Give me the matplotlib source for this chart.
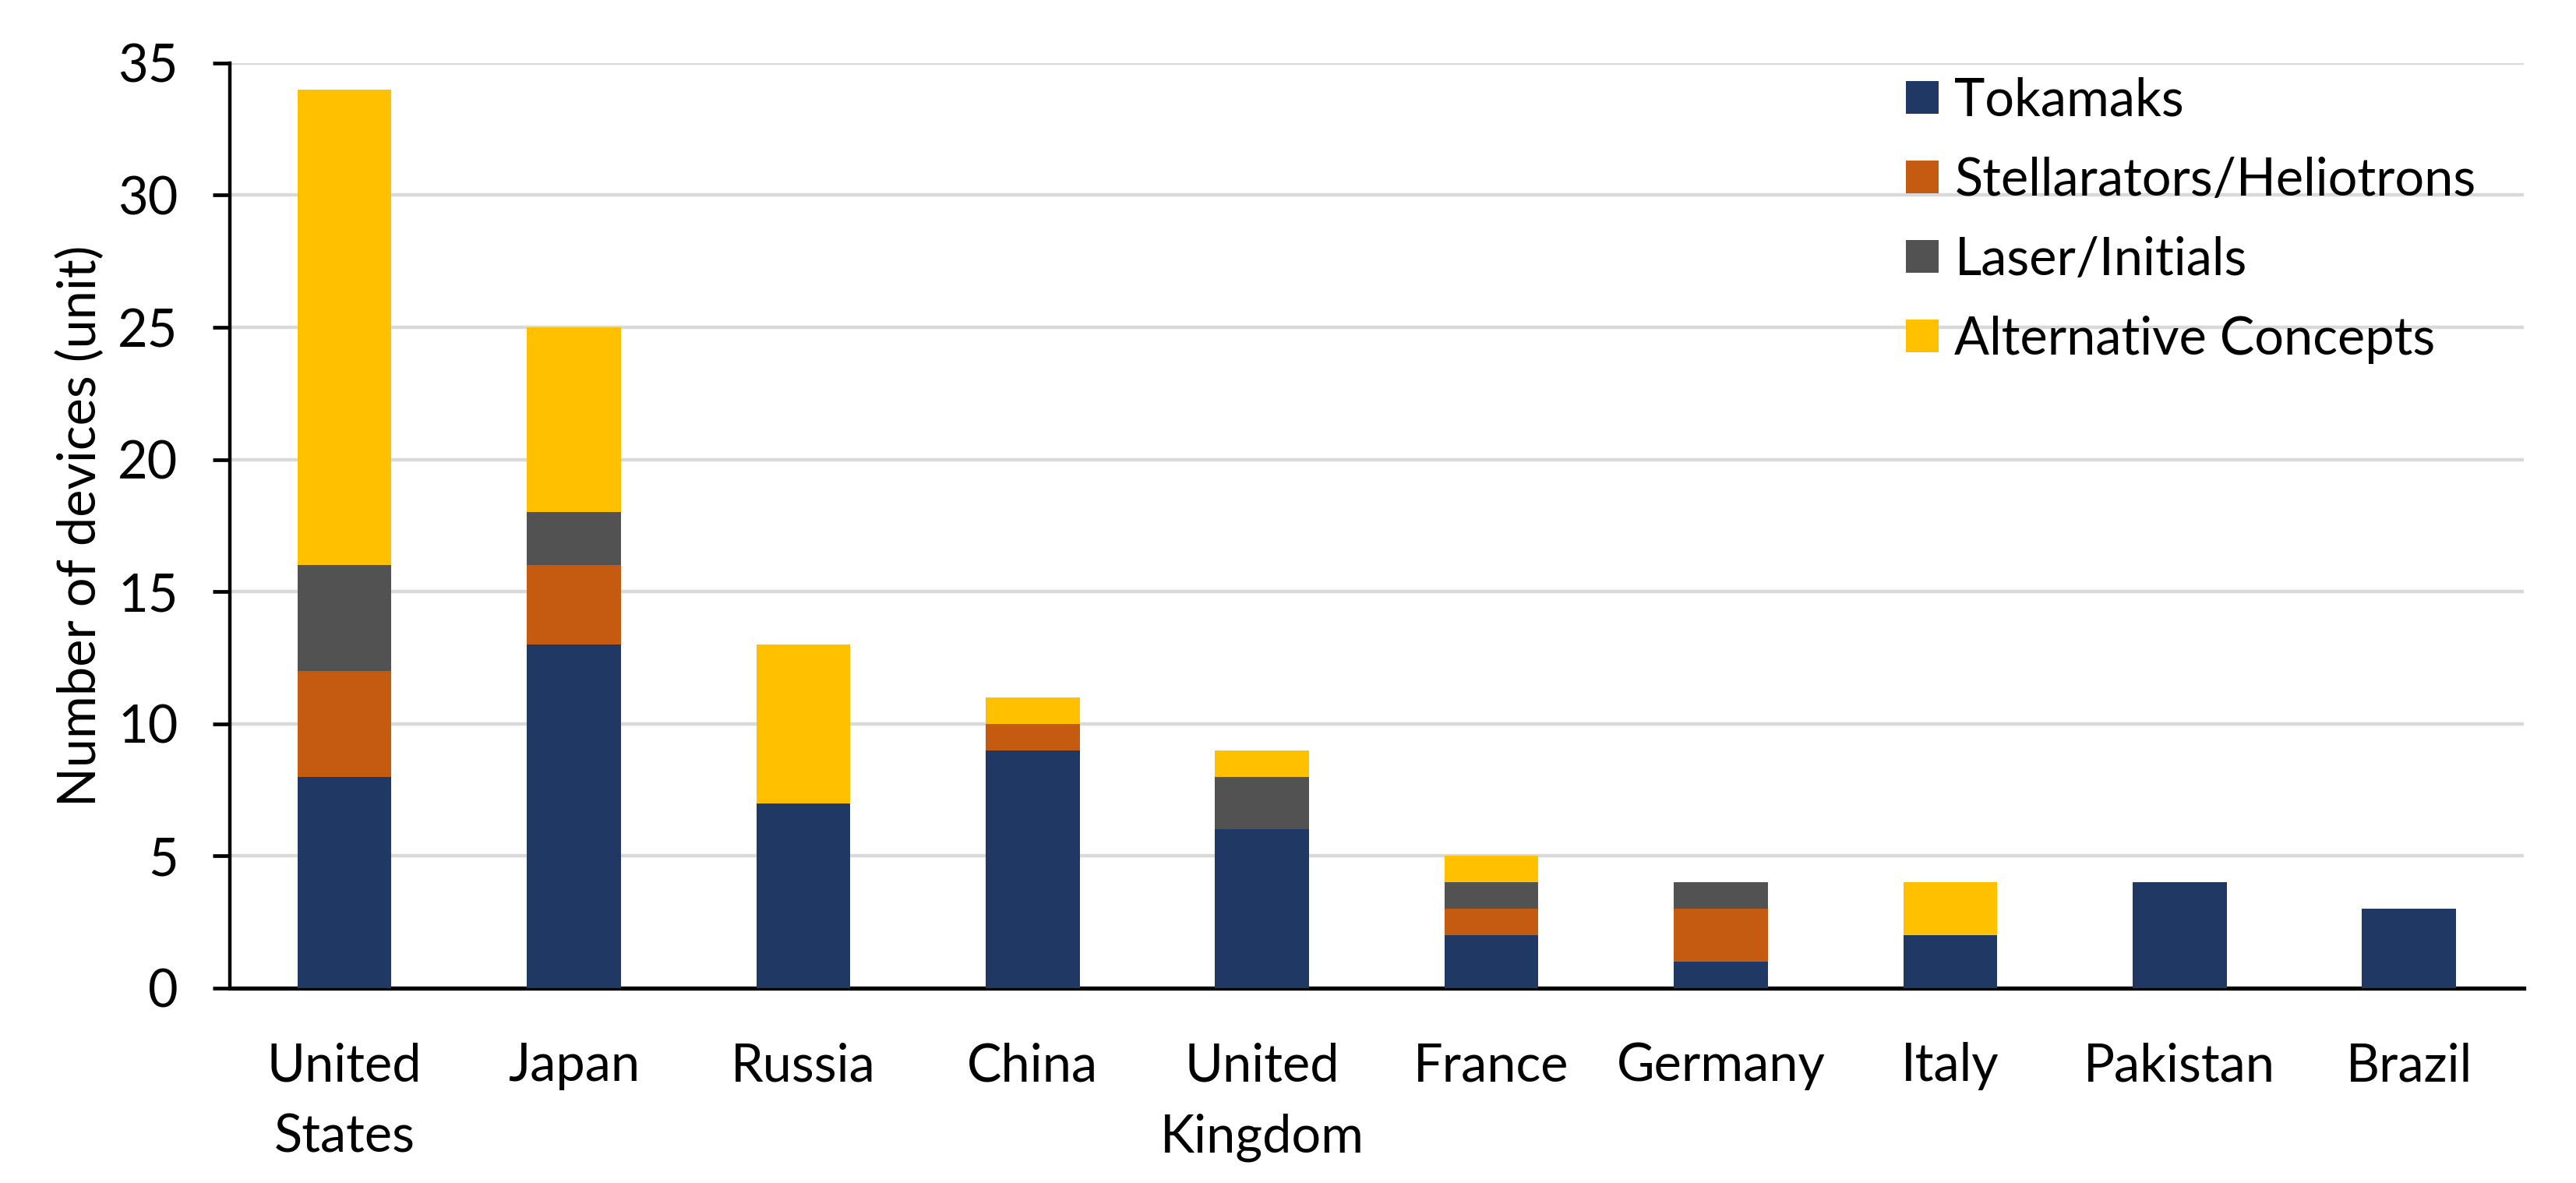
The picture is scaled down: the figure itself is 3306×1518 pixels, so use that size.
import matplotlib
matplotlib.use("Agg")
import matplotlib.pyplot as plt
import numpy as np

plt.rcParams['font.family'] = ['Lato', 'DejaVu Sans']

countries = ["United\nStates", "Japan", "Russia", "China", "United\nKingdom",
             "France", "Germany", "Italy", "Pakistan", "Brazil"]
series_names = ["Tokamaks", "Stellarators/Heliotrons", "Laser/Initials", "Alternative Concepts"]
tokamaks = [8, 13, 7, 9, 6, 2, 1, 2, 4, 3]
stellarators = [4, 3, 0, 1, 0, 1, 2, 0, 0, 0]
laser = [4, 2, 0, 0, 2, 1, 1, 0, 0, 0]
alternative = [18, 7, 6, 1, 1, 1, 0, 2, 0, 0]
colors = ["#203864", "#C55A11", "#525252", "#FFC000"]

FS = 48
fig = plt.figure(figsize=(33.06, 15.18), dpi=100)
ax = fig.add_axes([0.0892, 0.1647, 0.8905, 0.782])

x = np.arange(len(countries))
bottom = np.zeros(len(countries))
for name, vals, c in zip(series_names, [tokamaks, stellarators, laser, alternative], colors):
    ax.bar(x, vals, width=0.41, bottom=bottom, color=c, label=name, zorder=3)
    bottom += np.array(vals)

ax.set_xlim(-0.5, len(countries) - 0.5)
ax.set_ylim(0, 35)
ax.set_yticks(range(0, 36, 5))
ax.yaxis.grid(True, color="#D9D9D9", linewidth=3.2, zorder=0)
ax.set_axisbelow(True)
for s in ["top", "right"]:
    ax.spines[s].set_visible(False)
ax.spines["left"].set_linewidth(3.2)
ax.spines["bottom"].set_linewidth(3.8)
ax.tick_params(axis="y", length=15.8, width=3.4, labelsize=FS, pad=32)
ax.tick_params(axis="x", length=0, labelsize=FS, pad=50)
ax.set_xticks(x)
ax.set_xticklabels(countries, linespacing=1.59)
ax.set_ylabel("Number of devices (unit)", fontsize=FS)
ax.yaxis.set_label_coords(-0.0543, 0.5)

fig.legend(loc="upper left", bbox_to_anchor=(0.740, 0.935), bbox_transform=fig.transFigure,
           frameon=False, fontsize=FS, borderpad=0, borderaxespad=0,
           handlelength=0.63, handleheight=0.6, handletextpad=0.3, labelspacing=0.60)

fig.savefig("out.png", dpi=100)
